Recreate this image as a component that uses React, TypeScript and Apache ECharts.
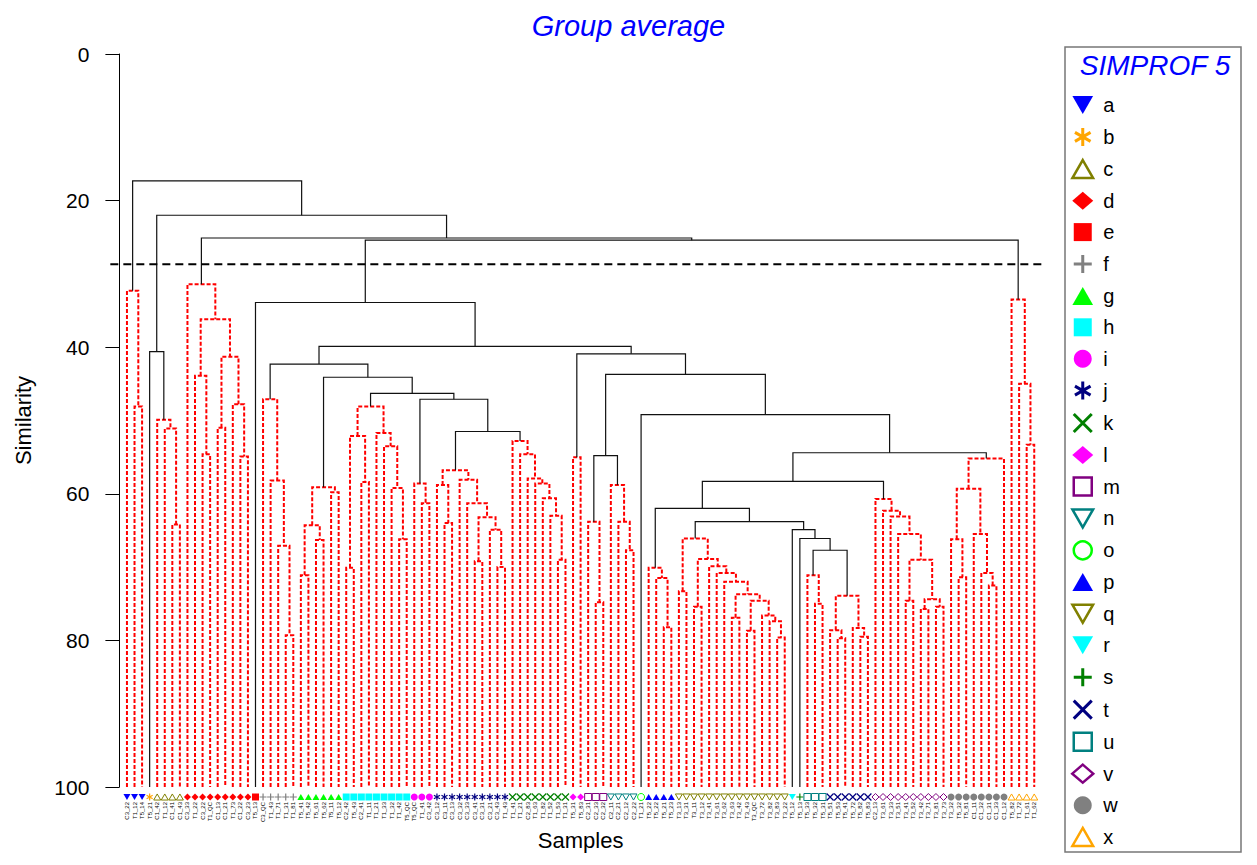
import React, { useEffect, useRef } from "react";
import * as echarts from "echarts";

// ---------------- DATA ----------------
// SIMPROF groups in the order they appear along the x axis, with their leaf counts
const GROUP_ORDER = ["a","b","c","d","e","f","g","h","i","j","k","l","m","n","o","p","q","r","s","u","t","v","w","x"];
const GROUP_SIZES = [3,1,4,9,1,5,6,9,3,10,8,2,3,4,1,4,15,1,1,3,6,10,8,4];
// Legend order
const LEGEND_GROUPS = ["a","b","c","d","e","f","g","h","i","j","k","l","m","n","o","p","q","r","s","t","u","v","w","x"];

// Sample names, left to right
const SAMPLE_LABELS = [
  "C3_22","T1_12","T5_14","T5_21","C1_42","T1_12","C1_41","C1_43","C3_33","T1_22",
  "C3_22","T1_QC","C1_13","C1_21","T1_73","C1_22","C3_23","T5_13","C3_QC","T1_43",
  "T1_71","T1_31","T1_81","T5_41","T5_42","T5_61","T5_62","T5_11","T5_12","C2_42",
  "T5_43","C2_41","T1_11","T1_21","T1_33","T1_32","T1_42","T5_QC","T5_QC","T1_41",
  "C3_42","C3_12","C3_11","C3_13","C3_32","C3_33","C3_41","C3_31","C3_21","C3_43",
  "T1_43","T1_41","T1_21","C2_83","T1_63","T1_82","T1_52","T1_53","T1_31","T5_31",
  "T5_83","C2_31","C2_33","C2_32","C2_11","C2_21","C2_12","C2_22","T1_21","T5_22",
  "T5_22","T5_21","T5_23","T3_13","T3_31","T3_11","T3_12","T3_41","T3_61","T3_62",
  "T3_63","T3_42","T3_43","T3_QC","T3_72","T3_82","T3_83","T3_22","T5_12","T5_13",
  "T5_33","T5_32","T5_31","T5_51","T5_53","T5_41","T5_72","T5_82","T5_83","C2_13",
  "T3_61","T3_33","T3_51","T3_41","T3_52","T3_42","T3_71","T3_81","T3_73","T3_32",
  "T5_32","T5_81","C1_11","C1_32","C1_31","C1_33","C1_12","T5_82","T1_72","T1_61",
  "T1_62"
];

// Dendrogram: [similarity at which the two parts join, left part, right part]; numbers are leaf indices
const CLUSTER_A = [32.3, 0, [48.1, 1, 2]];
const CLUSTER_C = [49.9, 4, [51.1, 5, [64.2, 6, 7]]];
const CLUSTER_D = [31.4, 8, [36.2, [43.9, 9, [54.6, 10, 11]], [41.3, [51.0, 12, 13], [47.8, 14, [54.9, 15, 16]]]]];
const CLUSTER_F = [47.1, 18, [58.2, 19, [67.1, 20, [79.3, 21, 22]]]];
const CLUSTER_G = [59.1, [64.3, [71.1, 23, 24], [66.3, 25, 26]], [59.8, 27, 28]];
const CLUSTER_H = [48.1, [52.1, [70.1, 29, 30], [58.4, 31, 32]], [51.7, 33, [53.5, 34, [59.2, 35, [66.2, 36, 37]]]]];
const CLUSTER_I = [58.6, 38, [61.3, 39, 40]];
const CLUSTER_J = [56.8, [58.8, 41, [64.0, 42, 43]], [58.1, 44, [61.3, 45, [63.2, [69.2, 46, 47], [64.9, 48, [70.0, 49, 50]]]]]];
const CLUSTER_K = [52.8, 51, [54.6, 52, [57.9, 53, [58.6, 54, [60.6, 55, [63.0, 56, [69.0, 57, 58]]]]]]];
const CLUSTER_L = [55.0, 59, 60];
const CLUSTER_M = [63.8, 61, [74.8, 62, 63]];
const CLUSTER_N = [58.8, 64, [63.8, 65, [67.7, 66, 67]]];
const CLUSTER_P = [70.1, 69, [71.5, 70, [78.2, 71, 72]]];
const CLUSTER_Q = [66.1, [73.3, 73, 74], [68.9, [75.4, 75, 76], [69.9, 77, [70.8, 78, [72.0, 79, [73.7, [76.9, 80, 81], [74.6, [78.7, 82, 83], [76.6, 84, [77.4, 85, [79.6, 86, 87]]]]]]]]]];
const CLUSTER_U = [71.1, 90, [75.0, 91, 92]];
const CLUSTER_T = [73.9, [78.6, 93, [79.7, 94, 95]], [78.3, 96, [79.5, 97, 98]]];
const CLUSTER_V = [60.7, 99, [62.3, 100, [63.1, 101, [65.5, 102, [69.0, [74.6, 103, 104], [74.4, [75.7, 105, 106], [75.4, 107, 108]]]]]]];
const CLUSTER_W = [55.2, [59.3, [66.2, 109, [71.4, 110, 111]], [65.5, 112, [70.8, 113, [72.5, 114, 115]]]], 116];
const CLUSTER_X = [33.5, 117, [45.0, 118, [53.3, 119, 120]]];

const NODE_UT = [67.7, CLUSTER_U, CLUSTER_T];
const NODE_S = [66.1, 89, NODE_UT];
const NODE_R = [64.9, 88, NODE_S];
const NODE_QR = [63.8, CLUSTER_Q, NODE_R];
const NODE_PQ = [62.0, CLUSTER_P, NODE_QR];
const NODE_PV = [58.3, NODE_PQ, CLUSTER_V];
const NODE_PW = [54.4, NODE_PV, CLUSTER_W];
const NODE_O = [49.2, 68, NODE_PW];
const NODE_MN = [54.8, CLUSTER_M, CLUSTER_N];
const NODE_MO = [43.7, NODE_MN, NODE_O];
const NODE_LM = [40.9, CLUSTER_L, NODE_MO];
const NODE_JK = [51.5, CLUSTER_J, CLUSTER_K];
const NODE_IJ = [47.1, CLUSTER_I, NODE_JK];
const NODE_HI = [46.3, CLUSTER_H, NODE_IJ];
const NODE_GH = [44.1, CLUSTER_G, NODE_HI];
const NODE_FG = [42.3, CLUSTER_F, NODE_GH];
const NODE_FL = [39.9, NODE_FG, NODE_LM];
const NODE_E = [33.9, 17, NODE_FL];
const NODE_EX = [25.4, NODE_E, CLUSTER_X];
const NODE_DE = [25.1, CLUSTER_D, NODE_EX];
const NODE_BC = [40.6, 3, CLUSTER_C];
const NODE_BD = [22.0, NODE_BC, NODE_DE];
const ROOT = [17.3, CLUSTER_A, NODE_BD];

const SLICE_LEVEL = 28.7; // dashed cut line
const Y_TICKS = [0, 20, 40, 60, 80, 100];

// ---------------- STYLE ----------------
const FONT = '"Liberation Sans", Arial, Helvetica, sans-serif';
const INV_TRI = "path://M0,0 L10,0 L5,8.7 Z";
const TRI = "path://M5,0 L10,8.7 L0,8.7 Z";
const SQUARE = "path://M0,0 L10,0 L10,10 L0,10 Z";
const PLUS = "path://M5,0 L5,10 M0,5 L10,5";
const CROSS = "path://M0,0 L10,10 M10,0 L0,10";
const ASTER = "path://M5,0 L5,10 M0.67,2.5 L9.33,7.5 M0.67,7.5 L9.33,2.5";

type Sym = { symbol: string; color: string; mode: "fill" | "open" | "line" };
const SYM: Record<string, Sym> = {
  a: { symbol: INV_TRI, color: "#0000ff", mode: "fill" },
  b: { symbol: ASTER, color: "#ffa500", mode: "line" },
  c: { symbol: TRI, color: "#808000", mode: "open" },
  d: { symbol: "diamond", color: "#ff0000", mode: "fill" },
  e: { symbol: SQUARE, color: "#ff0000", mode: "fill" },
  f: { symbol: PLUS, color: "#808080", mode: "line" },
  g: { symbol: TRI, color: "#00ff00", mode: "fill" },
  h: { symbol: SQUARE, color: "#00ffff", mode: "fill" },
  i: { symbol: "circle", color: "#ff00ff", mode: "fill" },
  j: { symbol: ASTER, color: "#000080", mode: "line" },
  k: { symbol: CROSS, color: "#008000", mode: "line" },
  l: { symbol: "diamond", color: "#ff00ff", mode: "fill" },
  m: { symbol: SQUARE, color: "#800080", mode: "open" },
  n: { symbol: INV_TRI, color: "#008080", mode: "open" },
  o: { symbol: "circle", color: "#00ff00", mode: "open" },
  p: { symbol: TRI, color: "#0000ff", mode: "fill" },
  q: { symbol: INV_TRI, color: "#808000", mode: "open" },
  r: { symbol: INV_TRI, color: "#00ffff", mode: "fill" },
  s: { symbol: PLUS, color: "#008000", mode: "line" },
  t: { symbol: CROSS, color: "#000080", mode: "line" },
  u: { symbol: SQUARE, color: "#008080", mode: "open" },
  v: { symbol: "diamond", color: "#800080", mode: "open" },
  w: { symbol: "circle", color: "#808080", mode: "fill" },
  x: { symbol: TRI, color: "#ffa500", mode: "open" },
};

function itemStyleFor(s: Sym, legend = false) {
  if (s.mode === "fill") return { color: s.color, borderWidth: 0, opacity: 1 };
  return {
    color: "rgba(0,0,0,0)",
    borderColor: s.color,
    opacity: 1,
    borderWidth: legend ? (s.mode === "line" ? 3 : 2.5) : (s.mode === "line" ? 1.2 : 1),
  };
}

// ---------------- BUILD ----------------
const leafGroup: string[] = [];
GROUP_ORDER.forEach((g, gi) => {
  for (let k = 0; k < GROUP_SIZES[gi]; k++) leafGroup.push(g);
});

type Layout = { x: number; h: number; groups: Set<string> };
const segments: number[][] = [];
function layout(node: any): Layout {
  if (typeof node === "number") return { x: node, h: 100, groups: new Set([leafGroup[node]]) };
  const [h, L, R] = node;
  const l = layout(L);
  const r = layout(R);
  const groups = new Set<string>([...l.groups, ...r.groups]);
  const within = groups.size === 1 ? 1 : 0;
  segments.push([l.x, r.x, l.h, r.h, h, within]);
  return { x: (l.x + r.x) / 2, h, groups };
}
layout(ROOT);

const N = leafGroup.length;

export default function App() {
  const ref = useRef<HTMLDivElement>(null);
  useEffect(() => {
    document.body.style.margin = "0";
    const chart = echarts.init(ref.current!, null, { renderer: "svg" });

    const scatterSeries = GROUP_ORDER.map((g) => {
      const s = SYM[g];
      const data: number[][] = [];
      leafGroup.forEach((lg, i) => { if (lg === g) data.push([i, 100]); });
      return {
        type: "scatter",
        name: g,
        data,
        symbol: s.symbol,
        symbolSize: 7,
        symbolKeepAspect: true,
        symbolOffset: [0, 10],
        itemStyle: itemStyleFor(s),
        clip: false,
        z: 5,
        silent: true,
      };
    });

    const option: any = {
      animation: false,
      backgroundColor: "#ffffff",
      textStyle: { fontFamily: FONT },
      title: {
        text: "Group average",
        left: "center",
        top: 6,
        textStyle: { color: "#0000ff", fontStyle: "italic", fontWeight: "normal", fontSize: 29, fontFamily: FONT },
      },
      grid: { left: 119.4, right: 215.2, top: 54, bottom: 78, containLabel: false },
      xAxis: {
        type: "value",
        min: -1,
        max: N,
        interval: 1,
        name: "Samples",
        nameLocation: "middle",
        nameGap: 39,
        nameTextStyle: { fontSize: 22, color: "#000", fontFamily: FONT },
        axisLine: { show: false, onZero: false },
        axisTick: { show: false },
        splitLine: { show: false },
        axisLabel: {
          rotate: 90,
          fontSize: 6,
          margin: 15,
          color: "#000",
          fontFamily: FONT,
          formatter: (v: number) => SAMPLE_LABELS[Math.round(v)] ?? "",
        },
      },
      yAxis: {
        type: "value",
        inverse: true,
        min: Y_TICKS[0],
        max: Y_TICKS[Y_TICKS.length - 1],
        interval: 20,
        name: "Similarity",
        nameLocation: "middle",
        nameGap: 85,
        nameTextStyle: { fontSize: 22, color: "#000", fontFamily: FONT },
        axisLine: { show: true, onZero: false, lineStyle: { color: "#000", width: 1 } },
        axisTick: { show: true, length: 14, lineStyle: { color: "#000", width: 1 } },
        splitLine: { show: false },
        axisLabel: { fontSize: 21, color: "#000", margin: 30, fontFamily: FONT },
      },
      legend: {
        orient: "vertical",
        left: 1071,
        top: 95,
        height: 790,
        padding: 0,
        itemWidth: 21,
        itemHeight: 18,
        itemGap: 11.4,
        selectedMode: false,
        textStyle: { fontSize: 20, color: "#000", fontFamily: FONT, lineHeight: 18, padding: [0, 0, 0, 5] },
        data: LEGEND_GROUPS.map((g) => ({
          name: g,
          icon: SYM[g].symbol,
          itemStyle: itemStyleFor(SYM[g], true),
        })),
      },
      graphic: [
        {
          type: "rect",
          shape: { x: 1065, y: 47, width: 176, height: 805 },
          style: { fill: "none", stroke: "#777", lineWidth: 1.5 },
          silent: true,
        },
        {
          type: "text",
          x: 1155,
          y: 65,
          style: {
            text: "SIMPROF 5",
            fill: "#0000ff",
            fontSize: 28,
            fontStyle: "italic",
            fontFamily: FONT,
            align: "center",
            verticalAlign: "middle",
          },
          silent: true,
        },
      ],
      series: [
        {
          type: "custom",
          name: "links",
          data: segments,
          encode: { x: [0, 1], y: [2, 3, 4] },
          clip: false,
          silent: true,
          z: 2,
          renderItem: (_p: any, api: any) => {
            const x1 = api.value(0), x2 = api.value(1);
            const yl = api.value(2), yr = api.value(3), ym = api.value(4);
            const red = api.value(5) === 1;
            const pts = [api.coord([x1, yl]), api.coord([x1, ym]), api.coord([x2, ym]), api.coord([x2, yr])];
            return {
              type: "polyline",
              shape: { points: pts },
              style: red
                ? { stroke: "#ff0000", lineWidth: 2, lineDash: [4, 2], fill: null }
                : { stroke: "#111", lineWidth: 1.2, fill: null },
            };
          },
        },
        {
          type: "custom",
          name: "slice",
          data: [[-2.2, N + 0.2, SLICE_LEVEL]],
          encode: { x: [0, 1], y: 2 },
          clip: false,
          silent: true,
          z: 3,
          renderItem: (_p: any, api: any) => {
            const a = api.coord([api.value(0), api.value(2)]);
            const b = api.coord([api.value(1), api.value(2)]);
            return {
              type: "line",
              shape: { x1: a[0], y1: a[1], x2: b[0], y2: b[1] },
              style: { stroke: "#000", lineWidth: 2, lineDash: [8, 5] },
            };
          },
        },
        ...scatterSeries,
      ],
    };
    chart.setOption(option);
    return () => chart.dispose();
  }, []);
  return <div ref={ref} style={{ width: 1257, height: 865 }} />;
}
